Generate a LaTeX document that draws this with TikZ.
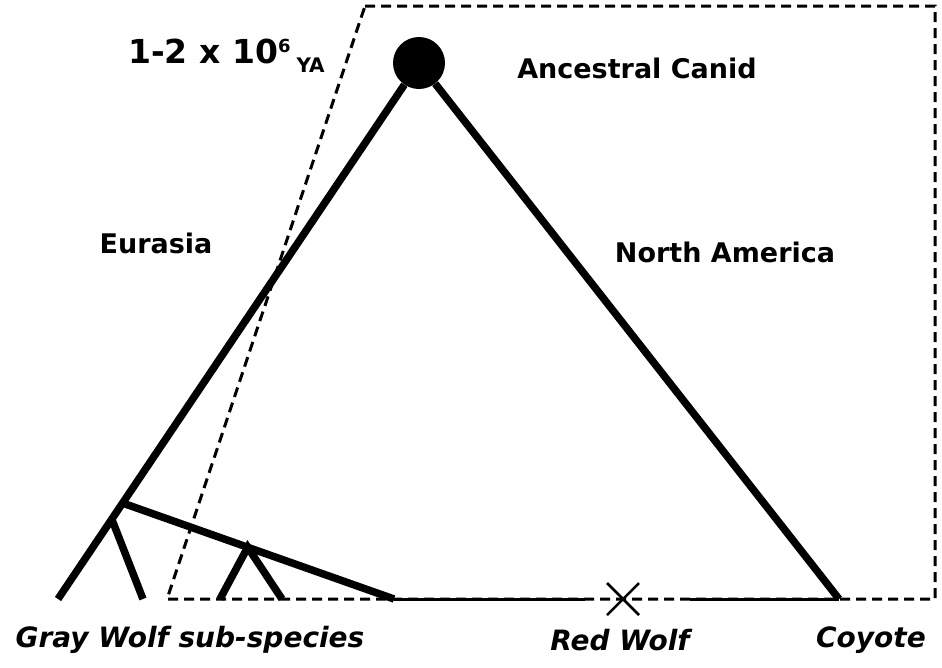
\documentclass[tikz,border=0pt]{standalone}
\usepackage{fontspec}
\setmainfont{DejaVu Sans}
\usetikzlibrary{calc}
\begin{document}
\begin{tikzpicture}[x=1pt,y=-1pt,
  thickline/.style={line width=7.5pt},
  dashline/.style={line width=3pt, dash pattern=on 10pt off 6pt},
  thinline/.style={line width=3pt},
  xline/.style={line width=2.5pt},
  lbl/.style={font=\fontsize{27}{30}\selectfont\bfseries, inner sep=0pt},
  taxon/.style={font=\fontsize{28}{30}\selectfont\bfseries\itshape, inner sep=0pt}]
\useasboundingbox (0,0) rectangle (942,667);

% dashed region
\coordinate (tl) at (365,6);
\coordinate (tr) at (935,6);
\coordinate (br) at (935,599);
\coordinate (bl) at (167,599);
\draw[dashline] (tl) -- (tr) -- (br) -- (bl) -- cycle;

% ancestor
\node[circle, fill=black, minimum size=52pt, inner sep=0pt] (anc) at (419,63) {};

\coordinate (gw0) at (58,599);
\coordinate (coy) at (839,599);
\coordinate (hyb) at (394,599);
\coordinate (j1) at ($(anc.center)!0.821!(gw0)$);
\coordinate (j0) at ($(anc.center)!0.851!(gw0)$);
\coordinate (gw1) at (143,599);
\coordinate (apex) at ($(j1)!0.461!(hyb)$);
\coordinate (v1) at (220,599);
\coordinate (v2) at (282,599);
\coordinate (s1) at (585,599);
\coordinate (s2) at (690,599);
\coordinate (rw) at (623,599);

\draw[thickline] (anc) -- (gw0);
\draw[thickline] (anc) -- (coy);
\draw[thickline] (j1) -- (hyb);
\draw[thickline] (j0) -- (gw1);
\draw[thickline] (v1) -- (apex) -- (v2);
\draw[thinline] (hyb) -- (s1);
\draw[thinline] (s2) -- (coy);
\draw[xline] ($(rw)+(-16,-16)$) -- ($(rw)+(16,16)$);
\draw[xline] ($(rw)+(-16,16)$) -- ($(rw)+(16,-16)$);

% labels
\node[anchor=base west, inner sep=0pt, font=\bfseries] (age) at (128,63)
  {\fontsize{33}{36}\selectfont 1-2 x 10\raisebox{11pt}{\fontsize{18}{20}\selectfont 6}\hspace{6pt}\raisebox{-9pt}{\fontsize{20}{22}\selectfont YA}};
\node[lbl] (ancl) at (637,68) {Ancestral Canid};
\node[lbl] (eur) at (156,243) {Eurasia};
\node[lbl] (na) at (725,252) {North America};
\node[taxon] (gw) at (190,640) {Gray Wolf sub-species};
\node[taxon] (red) at (620,640) {Red Wolf};
\node[taxon] (coyl) at (871,640) {Coyote};
\end{tikzpicture}
\end{document}
